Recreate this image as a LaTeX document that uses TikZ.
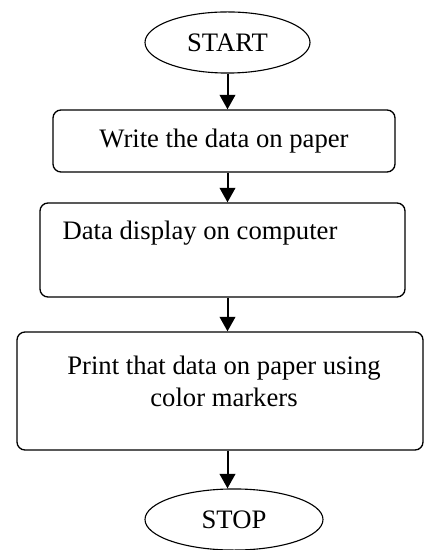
\documentclass[tikz,border=0pt]{standalone}
\usepackage{fontspec}
\setmainfont{Liberation Serif}
\usetikzlibrary{shapes.geometric,arrows.meta}
\begin{document}
\begin{tikzpicture}[x=0.45pt,y=-0.45pt,font=\fontsize{12}{14.4}\selectfont]
        \tikzstyle{terminal}=[ellipse,draw,line width=0.5pt,inner sep=0pt,minimum height=27.5pt]
        \tikzstyle{boite}=[rectangle,rounded corners=3.6pt,draw,line width=0.6pt,inner sep=0pt]
        \tikzstyle{texte}=[inner sep=0pt,align=center]
        \tikzstyle{fleche}=[line width=0.9pt,-{Triangle[length=6.5pt,width=7pt]}]
        \useasboundingbox (0,0) rectangle (424,550);
        \node[terminal,minimum width=74.25pt] (1) at (227.5,42.5) {START};
        \node[boite,minimum width=153.9pt,minimum height=27.9pt] (2) at (224,141) {Write the data on paper};
        \node[boite,minimum width=164.25pt,minimum height=42.3pt] (3) at (222.5,250) {};
        \node[texte] (t3) at (200,233) {Data display on computer};
        \node[boite,minimum width=182.7pt,minimum height=53.1pt] (4) at (220,391) {};
        \node[texte] (t4) at (224,381) {Print that data on paper using\\color markers};
        \node[terminal,minimum width=80.1pt] (5) at (234,519.5) {STOP};
        \draw[fleche] (1.south) -- (1.south |- 2.north);
        \draw[fleche] (2.south -| 1.south) -- (1.south |- 3.north);
        \draw[fleche] (3.south -| 1.south) -- (1.south |- 4.north);
        \draw[fleche] (4.south -| 1.south) -- (1.south |- 5.north);
    \end{tikzpicture}
\end{document}
